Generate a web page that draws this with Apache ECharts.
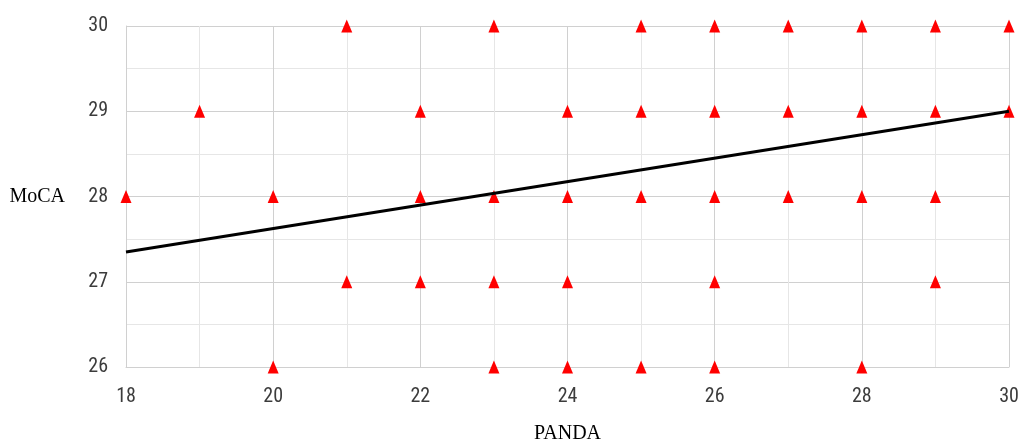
<!DOCTYPE html>
<html>
<head>
<meta charset="utf-8">
<script src="https://cdn.jsdelivr.net/npm/echarts@6/dist/echarts.min.js"></script>
<style>html,body{margin:0;padding:0;background:#fff}#c{width:1018px;height:444px}</style>
</head>
<body>
<div id="c"></div>
<script>
// PANDA (x) and MoCA (y) values of each observation
var pandaVals = [21,23,25,26,27,28,29,30, 19,22,24,25,26,27,28,29,30, 18,20,22,23,24,25,26,27,28,29, 21,22,23,24,26,29, 20,23,24,25,26,28];
var mocaVals  = [30,30,30,30,30,30,30,30, 29,29,29,29,29,29,29,29,29, 28,28,28,28,28,28,28,28,28,28, 27,27,27,27,27,27, 26,26,26,26,26,26];
// Trend line endpoints
var trendX = [18, 30];
var trendY = [27.35, 29.0];
var xTicks = [18, 20, 22, 24, 26, 28, 30];
var yTicks = [26, 27, 28, 29, 30];

var points = pandaVals.map(function (v, i) { return [v, mocaVals[i]]; });
var trend = trendX.map(function (v, i) { return [v, trendY[i]]; });

var labelFont = {color: '#3c3c3c', fontSize: 20, fontFamily: '"Liberation Sans Narrow", "Roboto Condensed", Roboto, sans-serif'};
var chart = echarts.init(document.getElementById('c'), null, {renderer: 'canvas'});
chart.setOption({
  animation: false,
  backgroundColor: '#fff',
  grid: {left: 126, right: 9, top: 26, bottom: 77, containLabel: false, outerBoundsMode: 'none'},
  xAxis: {
    type: 'value', min: 18, max: 30, interval: 1,
    name: 'PANDA', nameLocation: 'middle', nameGap: 57,
    nameTextStyle: {color: '#000', fontSize: 20, fontFamily: '"Liberation Serif", "DejaVu Serif", serif'},
    axisLine: {show: true, lineStyle: {color: '#d0d0d0', width: 1}},
    axisTick: {show: false},
    axisLabel: Object.assign({margin: 20, formatter: function (v) { return xTicks.indexOf(v) >= 0 ? String(v) : ''; }}, labelFont),
    splitLine: {show: true, lineStyle: {color: ['#d0d0d0', '#e6e6e6'], width: 1}}
  },
  yAxis: {
    type: 'value', min: 26, max: 30, interval: 0.5,
    name: 'MoCA', nameLocation: 'middle', nameGap: 61, nameRotate: 0,
    nameTextStyle: {color: '#000', fontSize: 20, fontFamily: '"Liberation Serif", "DejaVu Serif", serif', align: 'right'},
    axisLine: {show: true, lineStyle: {color: '#d0d0d0', width: 1}},
    axisTick: {show: false},
    axisLabel: Object.assign({margin: 18, formatter: function (v) { return yTicks.indexOf(v) >= 0 ? String(v) : ''; }}, labelFont),
    splitLine: {show: true, lineStyle: {color: ['#d0d0d0', '#e6e6e6'], width: 1}}
  },
  series: [
    {
      type: 'scatter', data: points, symbol: 'triangle', symbolSize: [11, 13],
      itemStyle: {color: '#ff0000', opacity: 1}, clip: false, z: 2
    },
    {
      type: 'line', data: trend, showSymbol: false, symbol: 'none',
      lineStyle: {color: '#000', width: 3}, z: 3, clip: false
    }
  ]
});
</script>
</body>
</html>
